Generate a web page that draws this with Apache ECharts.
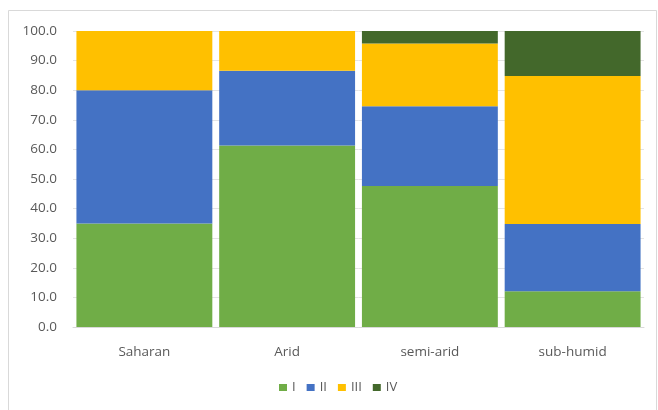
<!DOCTYPE html>
<html>
<head>
<meta charset="utf-8">
<script src="https://cdn.jsdelivr.net/npm/echarts@6/dist/echarts.min.js"></script>
<style>
  html, body { margin: 0; padding: 0; background: #ffffff; }
  #chart { width: 658px; height: 410px; }
</style>
</head>
<body>
<div id="chart"></div>
<script>
// Climate zones along the x axis
const categories = ['Saharan', 'Arid', 'semi-arid', 'sub-humid'];

// Share (%) of each class per zone
const seriesNames = ['I', 'II', 'III', 'IV'];
const valuesI   = [35.0, 61.3, 47.6, 12.1];
const valuesII  = [45.0, 25.3, 27.0, 22.7];
const valuesIII = [20.0, 13.4, 21.2, 50.0];
const valuesIV  = [0.0,  0.0,  4.2,  15.2];

const colors = ['#70AD47', '#4472C4', '#FFC000', '#43682B'];
const allValues = [valuesI, valuesII, valuesIII, valuesIV];

const chart = echarts.init(document.getElementById('chart'), null, { renderer: 'canvas' });

const font = '"Open Sans", "Noto Sans", sans-serif';

chart.setOption({
  animation: false,
  backgroundColor: '#ffffff',
  textStyle: { fontFamily: font },
  graphic: [{
    type: 'rect',
    shape: { x: 8.5, y: 10.5, width: 648, height: 420 },
    style: { fill: 'none', stroke: '#D9D9D9', lineWidth: 1 },
    silent: true,
    z: -1
  }],
  grid: { left: 73, right: 14, top: 31, bottom: 83 },
  legend: {
    data: seriesNames,
    bottom: 11,
    left: 274,
    itemWidth: 8,
    itemHeight: 7,
    itemGap: 11,
    icon: 'rect',
    textStyle: { color: '#595959', fontSize: 13, fontFamily: font }
  },
  xAxis: {
    type: 'category',
    data: categories,
    axisTick: { show: false },
    axisLine: { lineStyle: { color: '#D9D9D9' } },
    axisLabel: { color: '#595959', fontSize: 13.5, margin: 18, fontFamily: font }
  },
  yAxis: {
    type: 'value',
    min: 0,
    max: 100,
    interval: 10,
    axisLine: { show: false },
    axisTick: { show: false },
    splitLine: { lineStyle: { color: '#E4E4E4' } },
    axisLabel: {
      color: '#595959',
      fontSize: 13.5,
      margin: 16,
      fontFamily: font,
      formatter: v => v.toFixed(1)
    }
  },
  series: seriesNames.map((name, i) => ({
    name: name,
    type: 'bar',
    stack: 'total',
    barCategoryGap: '4.8%',
    itemStyle: { color: colors[i] },
    data: allValues[i]
  }))
});
</script>
</body>
</html>
